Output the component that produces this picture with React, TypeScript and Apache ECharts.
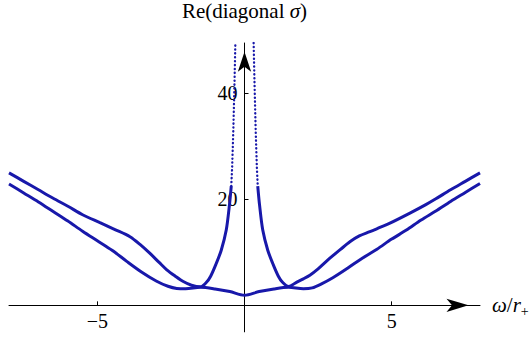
import React, { useEffect, useRef } from "react";
import * as echarts from "echarts";

// Curve A (with the central peak) – left part, solid
const aLeftX = [-8, -7.5, -7, -6.5, -6, -5.5, -4.91, -4.4, -3.89, -3.55, -3.21, -2.9, -2.64, -2.35, -2.08, -1.8, -1.5, -1.3, -1.15, -0.96, -0.79, -0.62, -0.51, -0.45];
const aLeftY = [25.0, 23.4, 21.8, 20.2, 18.7, 17.1, 15.6, 14.3, 12.95, 11.5, 9.8, 8.1, 6.7, 5.5, 4.5, 3.8, 3.5, 4.3, 5.5, 7.9, 10.4, 14.2, 19.0, 22.5];
// Curve A – left peak branch, dotted (sparse samples)
const aLeftDotX = [-0.45, -0.42, -0.38, -0.34, -0.31];
const aLeftDotY = [22.5, 26, 33, 42, 49.5];
// Curve A – right peak branch, dotted
const aRightDotX = [0.31, 0.34, 0.38, 0.42, 0.45];
const aRightDotY = [49.5, 42, 33, 26, 22.5];
// Curve A – right part, solid
const aRightX = [0.45, 0.51, 0.62, 0.79, 0.96, 1.15, 1.3, 1.5, 1.75, 2.0, 2.22, 2.5, 2.9, 3.25, 3.58, 3.9, 4.26, 4.6, 4.94, 5.62, 6.16, 6.5, 7, 7.5, 8];
const aRightY = [22.5, 19.0, 14.2, 10.4, 7.9, 5.5, 4.3, 3.55, 4.3, 5.0, 5.7, 6.9, 8.9, 10.5, 12.0, 13.1, 13.9, 14.7, 15.5, 17.4, 19.0, 20.1, 21.8, 23.4, 25.0];
// Curve B (no peak)
const bX = [-8, -7.5, -7, -6.5, -6, -5.5, -5, -4.5, -4, -3.5, -3, -2.6, -2.3, -2.0, -1.5, -1.0, -0.5, 0, 0.5, 1.0, 1.5, 2.0, 2.3, 2.6, 3, 3.5, 4, 4.5, 5, 5.5, 6, 6.5, 7, 7.5, 8];
const bY = [22.9, 21.2, 19.5, 17.7, 15.9, 14.0, 12.2, 10.4, 8.3, 6.3, 4.6, 3.6, 3.2, 3.15, 3.4, 3.1, 2.6, 1.9, 2.6, 3.1, 3.4, 3.15, 3.3, 4.0, 5.2, 7.0, 8.9, 10.6, 12.5, 14.2, 16.1, 17.8, 19.6, 21.3, 23.0];

const xTicks = [-5, 5];
const yTicks = [20, 40];

const X_MIN = -8, X_MAX = 8, Y_MIN = -5, Y_MAX = 49.5;

const serif = "Liberation Serif";
const blue = "#1818aa";

function pairs(xs: number[], ys: number[]) {
  return xs.map((x, i) => [x, ys[i]]);
}

export default function App() {
  const ref = useRef<HTMLDivElement>(null);
  useEffect(() => {
    const chart = echarts.init(ref.current!, null, { renderer: "svg" });
    const W = 529, H = 337;
    const g = { left: 9, right: 49, top: 43, bottom: 5.15 };
    const gw = W - g.left - g.right;
    const gh = H - g.top - g.bottom;
    // offsets that move the axes to cross at the origin
    const xAxisOffset = -(gh * (0 - Y_MIN)) / (Y_MAX - Y_MIN);
    const yAxisOffset = -(gw * (0 - X_MIN)) / (X_MAX - X_MIN);
    const solid = (data: number[][]) => ({
      type: "line",
      data,
      showSymbol: false,
      symbol: "none",
      smooth: 0.3,
      lineStyle: { color: blue, width: 3 },
      itemStyle: { color: blue },
    });
    const dotted = (data: number[][]) => ({
      type: "line",
      data,
      showSymbol: false,
      symbol: "none",
      lineStyle: { color: blue, width: 2.3, type: [0.3, 3.6], cap: "round" },
      itemStyle: { color: blue },
    });
    chart.setOption({
      animation: false,
      backgroundColor: "#fff",
      textStyle: { fontFamily: serif },
      grid: { ...g, containLabel: false, outerBoundsMode: "none" },
      xAxis: {
        type: "value",
        min: X_MIN,
        max: X_MAX,
        position: "bottom",
        offset: xAxisOffset,
        axisLine: {
          onZero: false,
          lineStyle: { color: "#000", width: 1 },
          symbol: ["none", "arrow"],
          symbolSize: [10, 22],
          symbolOffset: [0, -11.5],
        },
        axisTick: { show: true, inside: true, length: 4, customValues: xTicks, lineStyle: { color: "#000" } },
        axisLabel: {
          customValues: xTicks,
          formatter: (v: number) => (v < 0 ? "\u2212" + Math.abs(v) : String(v)),
          color: "#000",
          fontFamily: serif,
          fontSize: 20,
          margin: 6,
        },
        splitLine: { show: false },
        name: "{i|\u03c9}{n|/}{i|r}{s|+}",
        nameLocation: "end",
        nameGap: 12,
        nameTextStyle: {
          fontFamily: serif,
          rich: {
            i: { fontFamily: serif, fontStyle: "italic", fontSize: 21, color: "#000", lineHeight: 26 },
            n: { fontFamily: serif, fontSize: 21, color: "#000", lineHeight: 26 },
            s: { fontFamily: serif, fontSize: 14, color: "#000", lineHeight: 14, verticalAlign: "bottom" },
          },
        },
      },
      yAxis: {
        type: "value",
        min: Y_MIN,
        max: Y_MAX,
        position: "left",
        offset: yAxisOffset,
        axisLine: {
          onZero: false,
          lineStyle: { color: "#000", width: 1 },
          symbol: ["none", "arrow"],
          symbolSize: [10, 20],
          symbolOffset: [0, -8.7],
        },
        axisTick: { show: true, inside: true, length: 4, customValues: yTicks, lineStyle: { color: "#000" } },
        axisLabel: {
          customValues: yTicks,
          color: "#000",
          fontFamily: serif,
          fontSize: 20,
          margin: 7,
        },
        splitLine: { show: false },
        name: "{a|Re(diagonal }{b|\u03c3}{a|)}",
        nameLocation: "end",
        nameGap: 21,
        nameTextStyle: {
          fontFamily: serif,
          rich: {
            a: { fontFamily: serif, fontSize: 21, color: "#000", lineHeight: 22 },
            b: { fontFamily: serif, fontStyle: "italic", fontSize: 21, color: "#000", lineHeight: 22 },
          },
        },
      },
      series: [
        solid(pairs(bX, bY)),
        solid(pairs(aLeftX, aLeftY)),
        solid(pairs(aRightX, aRightY)),
        dotted(pairs(aLeftDotX, aLeftDotY)),
        dotted(pairs(aRightDotX, aRightDotY)),
      ],
    });
    return () => chart.dispose();
  }, []);
  return <div ref={ref} style={{ position: "absolute", left: 0, top: 0, width: 529, height: 337 }} />;
}
